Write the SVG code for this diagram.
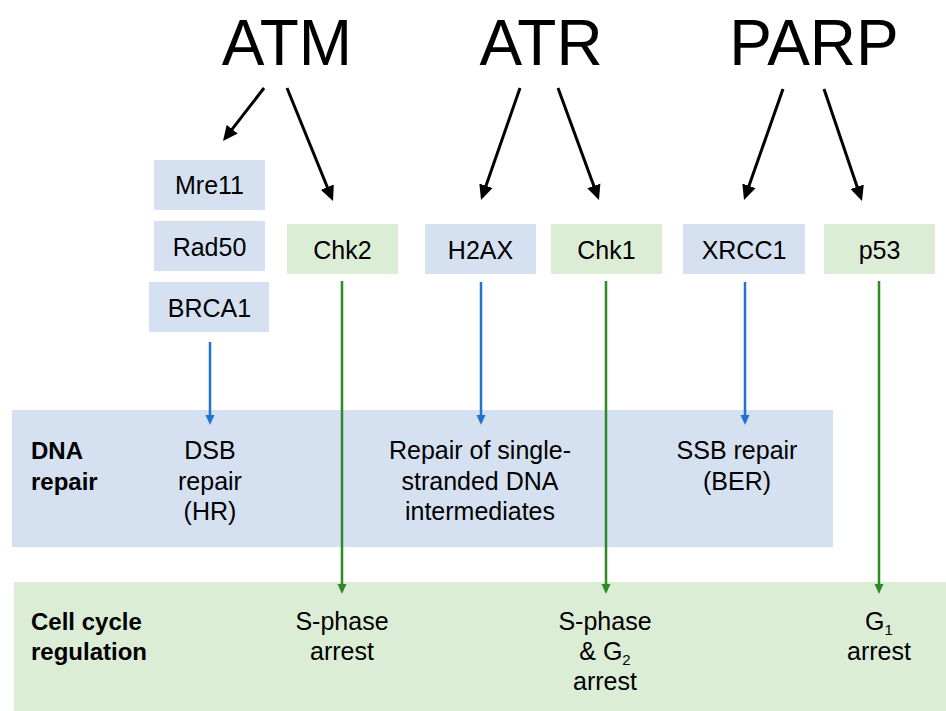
<svg xmlns="http://www.w3.org/2000/svg" width="946" height="711" viewBox="0 0 946 711">
<style>
.t{font-family:"Liberation Sans",Arial,sans-serif;fill:#000}
.title{font-size:64px;text-anchor:middle}
.lbl{font-size:25px;text-anchor:middle}
.band{font-size:25px;text-anchor:middle}
.hdr{font-size:24px;font-weight:bold}
.sub{font-size:15px}
.bb{fill:#d5e1f1}
.gb{fill:#dcedd6}
.k{stroke:#000;stroke-width:3;fill:none}
.bl{stroke:#1f74d2;stroke-width:2.5;fill:none}
.gr{stroke:#2f8a26;stroke-width:2.5;fill:none}
</style>
<defs>
<marker id="ak" markerUnits="userSpaceOnUse" markerWidth="16" markerHeight="15" refX="2" refY="7" orient="auto" viewBox="0 0 16 14"><path d="M0,0 L15,7 L0,14 z" fill="#000"/></marker>
<marker id="ab" markerUnits="userSpaceOnUse" markerWidth="11" markerHeight="10" refX="2" refY="4.5" orient="auto" viewBox="0 0 11 9"><path d="M0,0 L10,4.5 L0,9 z" fill="#1f74d2"/></marker>
<marker id="ag" markerUnits="userSpaceOnUse" markerWidth="11" markerHeight="10" refX="2" refY="4.5" orient="auto" viewBox="0 0 11 9"><path d="M0,0 L10,4.5 L0,9 z" fill="#2f8a26"/></marker>
</defs>
<rect width="946" height="711" fill="#fff"/>
<g id="band-dna-repair">
<rect class="bb" x="12" y="410" width="821" height="137"/>
<text class="t hdr" x="31" y="459">DNA</text>
<text class="t hdr" x="31" y="489.5">repair</text>
<text class="t band" x="210" y="459">DSB</text>
<text class="t band" x="210" y="489.5">repair</text>
<text class="t band" x="210" y="520">(HR)</text>
<text class="t band" x="480" y="459">Repair of single-</text>
<text class="t band" x="480" y="489.5">stranded DNA</text>
<text class="t band" x="480" y="520">intermediates</text>
<text class="t band" x="737" y="459">SSB repair</text>
<text class="t band" x="737" y="489.5">(BER)</text>
</g>
<g id="band-cell-cycle">
<rect class="gb" x="14" y="582" width="932" height="129"/>
<text class="t hdr" x="31" y="630">Cell cycle</text>
<text class="t hdr" x="31" y="660">regulation</text>
<text class="t band" x="342" y="630">S-phase</text>
<text class="t band" x="342" y="660">arrest</text>
<text class="t band" x="605" y="630">S-phase</text>
<text class="t band" x="605" y="660">&amp; G<tspan class="sub" dy="5">2</tspan></text>
<text class="t band" x="605" y="690">arrest</text>
<text class="t band" x="879" y="630">G<tspan class="sub" dy="5">1</tspan></text>
<text class="t band" x="879" y="660">arrest</text>
</g>
<g id="ATM"><text class="t title" x="287" y="65">ATM</text></g>
<g id="ATR"><text class="t title" x="541" y="65">ATR</text></g>
<g id="PARP"><text class="t title" x="814" y="65">PARP</text></g>
<g id="Mre11"><rect class="bb" x="154" y="160" width="111" height="50"/><text class="t lbl" x="209.5" y="194">Mre11</text></g>
<g id="Rad50"><rect class="bb" x="154" y="221" width="111" height="50"/><text class="t lbl" x="209.5" y="255.5">Rad50</text></g>
<g id="BRCA1"><rect class="bb" x="149" y="282" width="120" height="50"/><text class="t lbl" x="209.5" y="316.5">BRCA1</text></g>
<g id="Chk2"><rect class="gb" x="287" y="224" width="111" height="50"/><text class="t lbl" x="342.5" y="259">Chk2</text></g>
<g id="H2AX"><rect class="bb" x="425" y="224" width="111" height="50"/><text class="t lbl" x="480.5" y="259">H2AX</text></g>
<g id="Chk1"><rect class="gb" x="551" y="224" width="111" height="50"/><text class="t lbl" x="606.5" y="259">Chk1</text></g>
<g id="XRCC1"><rect class="bb" x="683" y="224" width="122" height="50"/><text class="t lbl" x="744" y="259">XRCC1</text></g>
<g id="p53"><rect class="gb" x="824" y="224" width="111" height="50"/><text class="t lbl" x="879.5" y="259">p53</text></g>
<g id="connectors">
<line class="k" x1="264" y1="88" x2="231" y2="130.7" marker-end="url(#ak)"/>
<line class="k" x1="287" y1="88" x2="328.1" y2="189" marker-end="url(#ak)"/>
<line class="k" x1="520" y1="88" x2="485.3" y2="187.7" marker-end="url(#ak)"/>
<line class="k" x1="558" y1="88" x2="594.5" y2="187.8" marker-end="url(#ak)"/>
<line class="k" x1="783" y1="89" x2="748.3" y2="187.7" marker-end="url(#ak)"/>
<line class="k" x1="824" y1="89" x2="857.8" y2="188.7" marker-end="url(#ak)"/>
<line class="bl" x1="210" y1="342" x2="210" y2="417" marker-end="url(#ab)"/>
<line class="bl" x1="481" y1="282" x2="481" y2="417" marker-end="url(#ab)"/>
<line class="bl" x1="745" y1="282" x2="745" y2="417" marker-end="url(#ab)"/>
<line class="gr" x1="342" y1="281" x2="342" y2="586" marker-end="url(#ag)"/>
<line class="gr" x1="606" y1="281" x2="606" y2="586" marker-end="url(#ag)"/>
<line class="gr" x1="879" y1="281" x2="879" y2="586" marker-end="url(#ag)"/>
</g>
</svg>
